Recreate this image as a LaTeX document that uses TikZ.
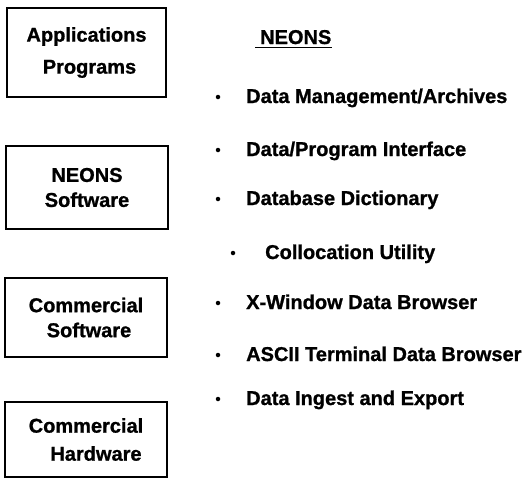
\documentclass[tikz,border=0pt]{standalone}
\usepackage{fontspec}
\setmainfont{Liberation Sans}[BoldFeatures={FakeBold=1}]
\usetikzlibrary{positioning}

\begin{document}
\begin{tikzpicture}[x=1pt,y=-1pt,
    layer/.style={draw, rectangle, line width=1.6pt, align=center, inner sep=0pt,
        font=\fontsize{20}{25}\selectfont\bfseries},
    item/.style={anchor=base west, inner sep=0pt, font=\fontsize{20}{24}\selectfont\bfseries},
    dot/.style={circle, fill, inner sep=0pt, minimum size=4.5pt}]
    \useasboundingbox (0,0) rectangle (529,479);

    % Layers on the left
    \node[layer, minimum width=159pt, minimum height=89pt] (apps) at (86.5,52.5) {Applications\\[7pt]\hspace*{6pt}Programs};
    \node[layer, minimum width=162pt, minimum height=83pt] (neons) at (87,187.5) {NEONS\\Software};
    \node[layer, minimum width=162pt, minimum height=79pt] (csoft) at (86,317.5) {Commercial\\\hspace*{6pt}Software};
    \node[layer, minimum width=162pt, minimum height=75pt] (chard) at (86,439.5) {Commercial\\[3pt]\hspace*{20pt}Hardware};

    % Heading
    \node[item] (head) at (260,44) {NEONS};
    \draw[line width=1.2pt] ([xshift=-5pt,yshift=-3pt]head.south west) -- ([yshift=-3pt]head.south east);

    % NEONS components
    \node[dot] (b1) at (218,97) {};
    \node[item] (archive) at (246,103) {Data Management/Archives};
    \node[dot] (b2) at (218,150) {};
    \node[item] (iface) at (246,156) {Data/Program Interface};
    \node[dot] (b3) at (218,199) {};
    \node[item] (dict) at (246,205) {Database Dictionary};
    \node[dot] (b4) at (233,253) {};
    \node[item] (colloc) at (265,259) {Collocation Utility};
    \node[dot] (b5) at (218,303) {};
    \node[item] (xwin) at (246,309) {X-Window Data Browser};
    \node[dot] (b6) at (218,355) {};
    \node[item] (ascii) at (246,361) {ASCII Terminal Data Browser};
    \node[dot] (b7) at (218,399) {};
    \node[item] (ingest) at (246,405) {Data Ingest and Export};
\end{tikzpicture}
\end{document}
